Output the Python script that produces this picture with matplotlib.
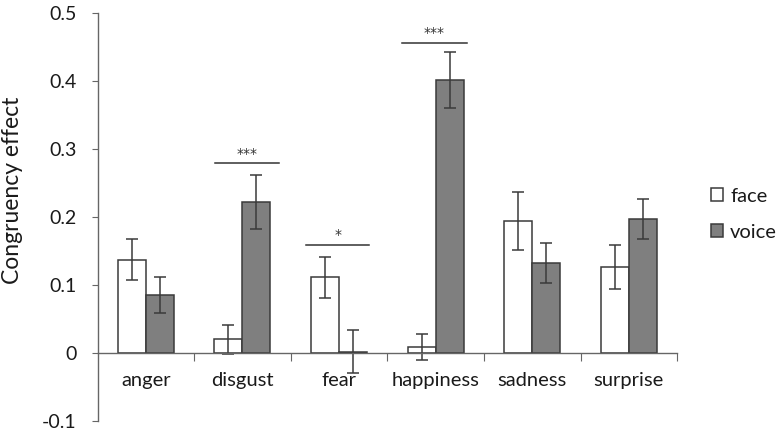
import matplotlib
matplotlib.use("Agg")
import matplotlib.pyplot as plt
from matplotlib.patches import Patch
import numpy as np

plt.rcParams['font.family'] = ['Lato', 'DejaVu Sans']

categories = ["anger", "disgust", "fear", "happiness", "sadness", "surprise"]
face = [0.137, 0.020, 0.111, 0.009, 0.194, 0.126]
face_err = [0.030, 0.021, 0.030, 0.019, 0.043, 0.032]
voice = [0.085, 0.222, 0.002, 0.401, 0.132, 0.197]
voice_err = [0.026, 0.040, 0.032, 0.041, 0.029, 0.029]

# significance annotations: (category index, left offset, right offset, y, label)
sig_idx = [1, 2, 3]
sig_left = [-0.28, -0.34, -0.35]
sig_right = [0.38, 0.31, 0.32]
sig_y = [0.279, 0.159, 0.456]
sig_labels = ["***", "*", "***"]

edge = "#3a3a3a"
grey = "#7f7f7f"
txt = "#1a1a1a"

fig = plt.figure(figsize=(7.77, 4.33), dpi=100)
ax = fig.add_axes([0.1255, 0.028, 0.746, 0.942])

x = np.arange(len(categories))
w = 0.29
ekw = dict(ecolor="#3a3a3a", elinewidth=1.1, capsize=4, capthick=1.1)
ax.bar(x - w / 2, face, w, yerr=face_err, color="white", edgecolor=edge,
       linewidth=1.1, error_kw=ekw, zorder=2)
ax.bar(x + w / 2, voice, w, yerr=voice_err, color=grey, edgecolor=edge,
       linewidth=1.1, error_kw=ekw, zorder=2)

for i, l, r, yy, lab in zip(sig_idx, sig_left, sig_right, sig_y, sig_labels):
    ax.plot([i + l, i + r], [yy, yy], color="#333333", lw=1.1)
    ax.text(i + (l + r) / 2, yy + 0.004, lab, ha="center", va="bottom",
            fontsize=10, color="#333333", family="DejaVu Sans")

ax.set_xlim(-0.5, 5.5)
ax.set_ylim(-0.1, 0.5)
ax.set_yticks([-0.1, 0, 0.1, 0.2, 0.3, 0.4, 0.5])
ax.set_yticklabels(["-0.1", "0", "0.1", "0.2", "0.3", "0.4", "0.5"])

for s in ["top", "right"]:
    ax.spines[s].set_visible(False)
ax.spines["left"].set_color("#666666")
ax.spines["bottom"].set_color("#666666")
ax.spines["bottom"].set_position(("data", 0))
ax.spines["left"].set_linewidth(1.0)
ax.spines["bottom"].set_linewidth(1.0)

ax.set_xticks(np.arange(0.5, 6.0, 1.0))
ax.set_xticklabels([])
ax.set_xticks(x, minor=True)
ax.set_xticklabels(categories, minor=True)
ax.tick_params(axis="x", which="major", direction="out", length=6, color="#666666")
ax.tick_params(axis="x", which="minor", length=0, pad=14, labelsize=14.5, labelcolor=txt)
ax.tick_params(axis="y", direction="out", length=4, color="#666666", labelsize=14,
               labelcolor=txt, pad=11)

ax.set_ylabel("Congruency effect", fontsize=16.5, color=txt)
ax.yaxis.set_label_coords(-0.129, 0.566)

handles = [Patch(facecolor="white", edgecolor=edge, linewidth=1.1, label="face"),
           Patch(facecolor=grey, edgecolor=edge, linewidth=1.1, label="voice")]
leg = fig.legend(handles=handles, loc="center left", bbox_to_anchor=(0.915, 0.505),
                 frameon=False, fontsize=14.5, handlelength=0.6, handleheight=0.6,
                 handletextpad=0.35, labelspacing=0.95, borderpad=0, borderaxespad=0)
for t in leg.get_texts():
    t.set_color(txt)
fig.savefig("out.png", dpi=100)
